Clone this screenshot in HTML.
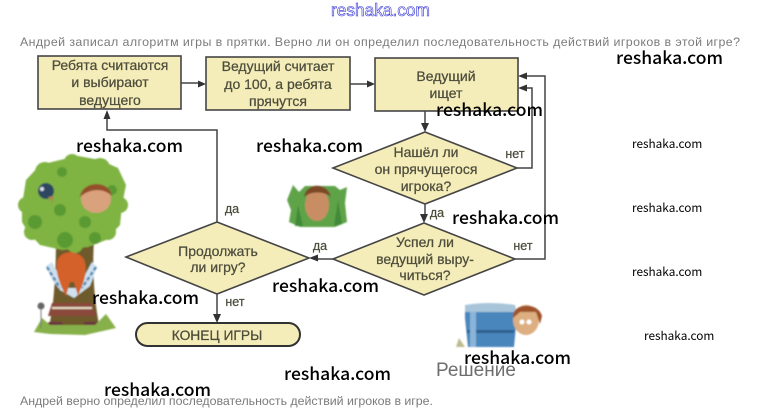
<!DOCTYPE html>
<html><head><meta charset="utf-8">
<style>
html,body{margin:0;padding:0;background:#fff}
svg{display:block}
.t{font-family:"Liberation Sans",sans-serif;font-size:14px;fill:#4d4d3c;text-anchor:middle;font-weight:400;stroke:#4d4d3c;stroke-width:.25}
.g{font-family:"Liberation Sans",sans-serif;font-size:12.4px;fill:#7b7b7b}
.w{font-family:"Noto Sans CJK JP",sans-serif;font-size:17.5px;fill:#000;font-weight:500}
.s{font-family:"Noto Sans CJK JP",sans-serif;font-size:11.8px;fill:#000}
.b{fill:#f5edb9;stroke:#444;stroke-width:1.6}
.l{fill:none;stroke:#444;stroke-width:1.5}
.a{fill:#333}
</style></head><body>
<svg width="759" height="417" viewBox="0 0 759 417" xmlns="http://www.w3.org/2000/svg">
<defs>
<filter id="bl" x="-5%" y="-5%" width="110%" height="110%"><feGaussianBlur stdDeviation="0.3"/></filter>
<filter id="bl2" x="-5%" y="-5%" width="110%" height="110%"><feGaussianBlur stdDeviation="0.8"/></filter>
</defs>
<rect width="759" height="417" fill="#fff"/>
<text x="331" y="16" font-family="Liberation Sans,sans-serif" font-size="17.300" fill="#fff" stroke="#3030d8" stroke-width=".6">reshaka.com</text>
<text class="g" x="20" y="46" textLength="720">Андрей записал алгоритм игры в прятки. Верно ли он определил последовательность действий игроков в этой игре?</text>

<g filter="url(#bl2)">
<!-- tree -->
<path d="M56 240 C56 270 54 310 48 330 L100 330 C94 300 92 270 94 240Z" fill="#6e5a2a"/>
<path d="M22 205 L26 180 L40 165 L60 160 L78 156 L100 160 L118 168 L126 185 L122 205 L120 225 L106 240 L88 247 L62 250 L40 245 L28 232 L22 222Z" fill="#7fb342"/>
<g fill="#7fb342">
<circle cx="45" cy="172" r="10"/><circle cx="72" cy="162" r="8"/><circle cx="100" cy="168" r="10"/>
<circle cx="26" cy="205" r="8"/><circle cx="120" cy="205" r="8"/>
<circle cx="32" cy="232" r="8"/><circle cx="75" cy="245" r="8"/><circle cx="108" cy="232" r="8"/>
</g>
<g fill="#5a9a30"><circle cx="35" cy="222" r="7"/><circle cx="65" cy="240" r="8"/><circle cx="95" cy="238" r="6"/><circle cx="60" cy="210" r="6"/><circle cx="112" cy="190" r="5"/><circle cx="62" cy="172" r="5"/><circle cx="85" cy="222" r="6"/></g>
<ellipse cx="46" cy="191" rx="8" ry="8" fill="#2f4760"/>
<circle cx="42" cy="189" r="2" fill="#dde"/>
<path d="M48 197 L52 203 L54 196Z" fill="#a88a50"/>
<ellipse cx="96" cy="199" rx="15" ry="14" fill="#d9a27c"/>
<path d="M80 197 C82 180 110 180 112 196 C104 188 90 188 80 197Z" fill="#94502a"/>
<!-- girl -->
<path d="M46 266 L52 262 L66 288 L78 288 L92 262 L97 267 L90 286 L74 298 L60 290 L52 280Z" fill="#cfe2ee"/>
<path d="M47 267 L60 288 M96 267 L82 288" stroke="#4f88b4" stroke-width="2.500" fill="none" stroke-dasharray="4 2"/>
<path d="M57 262 C60 248 82 250 85 262 C88 275 82 285 78 296 L74 282 L70 282 L66 296 C60 285 55 272 57 262Z" fill="#d4602a"/>
<path d="M52 303 L92 303 L96 316 L48 316Z" fill="#8a4a3a"/>
<path d="M52 308 H92" stroke="#e8e0c8" stroke-width="2"/>
<rect x="47" y="322" width="16" height="9" rx="3" fill="#6a3040"/><rect x="83" y="322" width="16" height="9" rx="3" fill="#6a3040"/>
<path d="M34 332 L42 318 L50 325 L95 325 L106 314 L116 328 L85 335 L50 334Z" fill="#86b04a"/>
<circle cx="41" cy="306" r="3.500" fill="#666"/><path d="M41 308 V328" stroke="#777" stroke-width="1"/>

<!-- bush boy -->
<path d="M287 200 L293 185 L299 192 L305 186 L335 186 L340 190 L347 187 L345 203 L347 222 L335 227 L300 227 L289 222 L291 210Z" fill="#5fa348"/>
<ellipse cx="317" cy="205" rx="12" ry="16" fill="#c98d64"/>
<path d="M304 197 C306 182 328 182 331 197 C324 191 311 191 304 197Z" fill="#7c4a26"/>
<path d="M295 226 L298 205 L303 226Z M334 226 L338 200 L342 224Z" fill="#3f8a38"/>

<!-- barrel -->
<path d="M465 306 L515 306 L517 315 L514 347 L468 347 L465 318Z" fill="#4a86bc"/>
<path d="M465 305 Q490 301 515 305 L516 312 L465 312Z" fill="#a8c4d8"/>
<rect x="467" y="330" width="47" height="3" fill="#2f5f8e"/>
<rect x="470" y="312" width="6" height="35" fill="#8ab4d8"/>
<ellipse cx="526" cy="320" rx="13" ry="15" fill="#dcae80"/>
<path d="M513 318 C511 303 538 301 542 316 L540 324 L536 312 L520 312Z" fill="#a0522a"/>
<circle cx="522" cy="322" r="2.500" fill="#fff"/><circle cx="529" cy="322" r="2.500" fill="#fff"/>
<path d="M456 347 L459 338 L465 347Z" fill="#bcbc90"/>
</g>

<g filter="url(#bl)">
<!-- connectors -->
<g class="l">
<path d="M181 83 H200"/><path d="M350 84 H369"/>
<path d="M425 111 V126"/>
<path d="M517 168 H532 V88 H526"/>
<path d="M515 259 H545 V76 H526"/>
<path d="M425 204 V217"/>
<path d="M333 259 H315"/>
<path d="M217 222 V130 H107 V115"/>
<path d="M217 294 V317"/>
</g>
<g class="a">
<path d="M206 84 L198 80.500 V87.500Z"/><path d="M375 84 L367 80.500 V87.500Z"/>
<path d="M425 132 L421 123 H429Z"/><path d="M518 88 L527 84.500 V91.500Z"/>
<path d="M518 76 L527 72.500 V79.500Z"/><path d="M424 223 L420 214 H428Z"/>
<path d="M309 258 L318 254.500 V261.500Z"/><path d="M107 110 L103.500 119 H110.500Z"/>
<path d="M217 323 L213 314 H221Z"/>
</g>

<!-- nodes -->
<rect class="b" x="38" y="56" width="143" height="53"/>
<rect class="b" x="206" y="57" width="144" height="53"/>
<rect class="b" x="375" y="58" width="143" height="53"/>
<path class="b" d="M425 132 L517 168 L425 204 L333 168Z"/>
<path class="b" d="M424 223 L515 259 L424 295 L333 259Z"/>
<path class="b" d="M217 222 L309 258 L217 294 L126 257Z"/>
<rect x="136" y="323" width="164" height="23" rx="11.500" fill="#f5edb9" stroke="#333" stroke-width="2"/>

<g class="t">
<text x="110" y="70">Ребята считаются</text><text x="110" y="87">и выбирают</text><text x="110" y="105">ведущего</text>
<text x="278" y="71">Ведущий считает</text><text x="278" y="89">до 100, а ребята</text><text x="278" y="106">прячутся</text>
<text x="446" y="81">Ведущий</text><text x="446" y="98">ищет</text>
<text x="426" y="157">Нашёл ли</text><text x="426" y="174">он прячущегося</text><text x="426" y="191">игрока?</text>
<text x="425" y="247">Успел ли</text><text x="425" y="264">ведущий выру-</text><text x="425" y="280">читься?</text>
<text x="218" y="256">Продолжать</text><text x="218" y="272">ли игру?</text>
<text x="217" y="340" style="font-size:13.800px">КОНЕЦ ИГРЫ</text>
<g style="font-size:12.500px">
<text x="232" y="213">да</text><text x="320" y="250">да</text><text x="235" y="306">нет</text>
<text x="515" y="158">нет</text><text x="523" y="250">нет</text><text x="437" y="217">да</text>
</g>
</g>
</g>

<text class="w" x="76" y="152">reshaka.com</text>
<text class="w" x="256" y="152">reshaka.com</text>
<text class="w" x="616" y="64">reshaka.com</text>
<text class="w" x="436" y="116">reshaka.com</text>
<text class="w" x="452" y="224">reshaka.com</text>
<text class="w" x="92" y="304">reshaka.com</text>
<text class="w" x="272" y="292">reshaka.com</text>
<text class="w" x="464" y="364">reshaka.com</text>
<text class="w" x="284" y="380">reshaka.com</text>
<text class="w" x="104" y="396">reshaka.com</text>
<text class="s" x="632" y="148">reshaka.com</text>
<text class="s" x="632" y="212">reshaka.com</text>
<text class="s" x="632" y="276">reshaka.com</text>
<text class="s" x="644" y="340">reshaka.com</text>

<text x="436" y="376" font-family="Liberation Sans,sans-serif" font-size="19" fill="#6e6e6e">Решение</text>
<text class="g" x="20" y="405" textLength="413">Андрей верно определил последовательность действий игроков в игре.</text>
</svg>
</body></html>
